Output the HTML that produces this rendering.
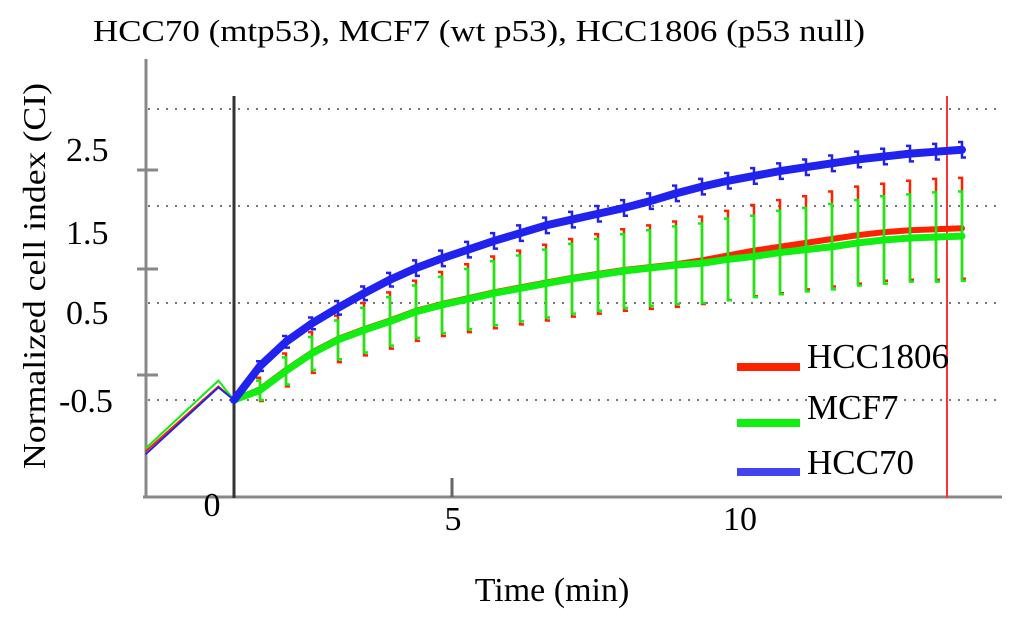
<!DOCTYPE html>
<html><head><meta charset="utf-8"><style>
html,body{margin:0;padding:0;background:#fff;}
svg{display:block;font-family:"Liberation Serif",serif;}
</style></head><body>
<svg id="chart" width="1024" height="622" viewBox="0 0 1024 622">
<text x="93" y="41" font-size="31" textLength="772" lengthAdjust="spacingAndGlyphs">HCC70 (mtp53), MCF7 (wt p53), HCC1806 (p53 null)</text>
<text transform="translate(45,276) rotate(-90)" text-anchor="middle" font-size="32" textLength="386" lengthAdjust="spacingAndGlyphs">Normalized cell  index (CI)</text>
<text x="552" y="601" text-anchor="middle" font-size="34">Time (min)</text>
<g id="grid"></g>
<g id="axes"></g>
<g id="series"></g>
<g id="legend"></g>
</svg>
<script>
const times = [0,0.5,1,1.5,2,2.5,3,3.5,4,4.5,5,5.5,6,6.5,7,7.5,8,8.5,9,9.5,10,10.5,11,11.5,12,12.5,13,13.5,14];
const hcc70 = [-0.5,-0.15,0.1,0.29,0.45,0.6,0.74,0.86,0.96,1.05,1.14,1.22,1.3,1.36,1.42,1.48,1.55,1.63,1.7,1.76,1.81,1.86,1.9,1.94,1.98,2.01,2.04,2.06,2.08];
const mcf7 = [-0.5,-0.4,-0.2,-0.02,0.12,0.22,0.31,0.41,0.48,0.54,0.6,0.65,0.7,0.75,0.79,0.83,0.86,0.89,0.91,0.95,0.98,1.02,1.05,1.08,1.12,1.15,1.17,1.18,1.19];
const hcc1806 = [-0.5,-0.39,-0.19,-0.01,0.13,0.23,0.32,0.42,0.49,0.55,0.61,0.66,0.71,0.76,0.8,0.84,0.87,0.9,0.94,0.99,1.04,1.08,1.12,1.16,1.2,1.23,1.25,1.26,1.27];
const errMcf7 = [0,0.1,0.14,0.17,0.2,0.23,0.25,0.27,0.29,0.31,0.33,0.34,0.35,0.36,0.37,0.38,0.39,0.4,0.41,0.42,0.42,0.43,0.43,0.44,0.44,0.45,0.45,0.46,0.46];
const errHcc1806 = [0,0.12,0.17,0.21,0.24,0.27,0.29,0.31,0.33,0.35,0.37,0.38,0.39,0.4,0.41,0.42,0.43,0.44,0.45,0.46,0.47,0.48,0.48,0.49,0.5,0.5,0.51,0.52,0.52];
const errHcc70 = [0,0.05,0.06,0.06,0.07,0.07,0.07,0.08,0.08,0.08,0.08,0.08,0.08,0.08,0.08,0.08,0.08,0.08,0.08,0.08,0.08,0.08,0.08,0.08,0.08,0.08,0.08,0.08,0.08];
const preTimes = [-1.7,-0.3,0];
const preHcc70 = [-1.06,-0.37,-0.5];
const preMcf7 = [-1.0,-0.3,-0.5];
const preHcc1806 = [-1.03,-0.36,-0.5];
const yTickLabels = ["2.5","1.5","0.5","-0.5"];
const legendNames = ["HCC1806","MCF7","HCC70"];

const NS="http://www.w3.org/2000/svg";
function X(t){return 234 + t*52;}
function Y(v){return 400 - (v+0.5)*97;}
function mk(tag,attrs,parent){const e=document.createElementNS(NS,tag);for(const k in attrs)e.setAttribute(k,attrs[k]);parent.appendChild(e);return e;}
const grid=document.getElementById('grid'), axes=document.getElementById('axes'), series=document.getElementById('series'), legend=document.getElementById('legend');

[-0.5,0.5,1.5,2.5].forEach(v=>{
  const l=mk('line',{x1:148,x2:1000,y1:Y(v),y2:Y(v),stroke:'#777','stroke-width':2,'stroke-dasharray':'2 7'},grid);
  
  
});
let a=mk('line',{x1:146,x2:146,y1:59,y2:498,stroke:'#888','stroke-width':3},axes);


a=mk('line',{x1:143,x2:1002,y1:497,y2:497,stroke:'#888','stroke-width':3},axes);


[170,269,375].forEach(y=>{
  const t=mk('line',{x1:137,x2:158,y1:y,y2:y,stroke:'#888','stroke-width':3},axes);
  
  
});
const tk=mk('line',{x1:452,x2:452,y1:478,y2:497,stroke:'#666','stroke-width':3},axes);


const vb=mk('line',{x1:234,x2:234,y1:96,y2:498,stroke:'#333','stroke-width':3},axes);


const vr=mk('line',{x1:947,x2:947,y1:96,y2:498,stroke:'#f33','stroke-width':2},axes);


const ylabY=[161,244,324,412], ylabX=[66,66,66,59];
yTickLabels.forEach((s,i)=>{
  const t=mk('text',{x:ylabX[i],y:ylabY[i],'font-size':34},axes);
  t.textContent=s;
  
  
});
[["0",212,516],["5",453,530],["10",740,530]].forEach(d=>{
  const t=mk('text',{x:d[1],y:d[2],'font-size':34,'text-anchor':'middle'},axes);
  t.textContent=d[0];
  
  
});

function drawSeries(name,color,pre,vals,errs,width,capDir){
  const g=mk('g',{},series);
  
  
  const pl=mk('polyline',{points:preTimes.map((t,i)=>X(t)+','+Y(pre[i])).join(' '),fill:'none',stroke:color,'stroke-width':2},g);
  
  
  times.forEach((t,i)=>{
    if(i===0)return;
    const x=X(t), y1=Y(vals[i]+errs[i]), y2=Y(vals[i]-errs[i]);
    const e=mk('path',{d:`M${x+capDir*4},${y1} L${x},${y1} L${x},${y2} L${x-capDir*4},${y2}`,fill:'none',stroke:color,'stroke-width':2.5},g);
    
    
  });
  const ln=mk('polyline',{points:times.map((t,i)=>X(t)+','+Y(vals[i])).join(' '),fill:'none',stroke:color,'stroke-width':width,'stroke-linejoin':'round','stroke-linecap':'round'},g);
  
  
}
drawSeries('hcc1806','#ff2200',preHcc1806,hcc1806,errHcc1806,6,-1);
drawSeries('mcf7','#11ee11',preMcf7,mcf7,errMcf7,7,-1);
drawSeries('hcc70','#2222ee',preHcc70,hcc70,errHcc70,8,-1);

const legColors=['#ff2200','#11ee11','#4444ee'];
const legLineY=[367,423,472], legTextY=[368,419,474];
legendNames.forEach((n,i)=>{
  const g=mk('g',{},legend);
  
  
  mk('rect',{x:737,y:legLineY[i]-4,width:63,height:8,fill:legColors[i]},g);
  const t=mk('text',{x:807,y:legTextY[i],'font-size':35},g);
  t.textContent=n;
});
</script>
</body></html>
